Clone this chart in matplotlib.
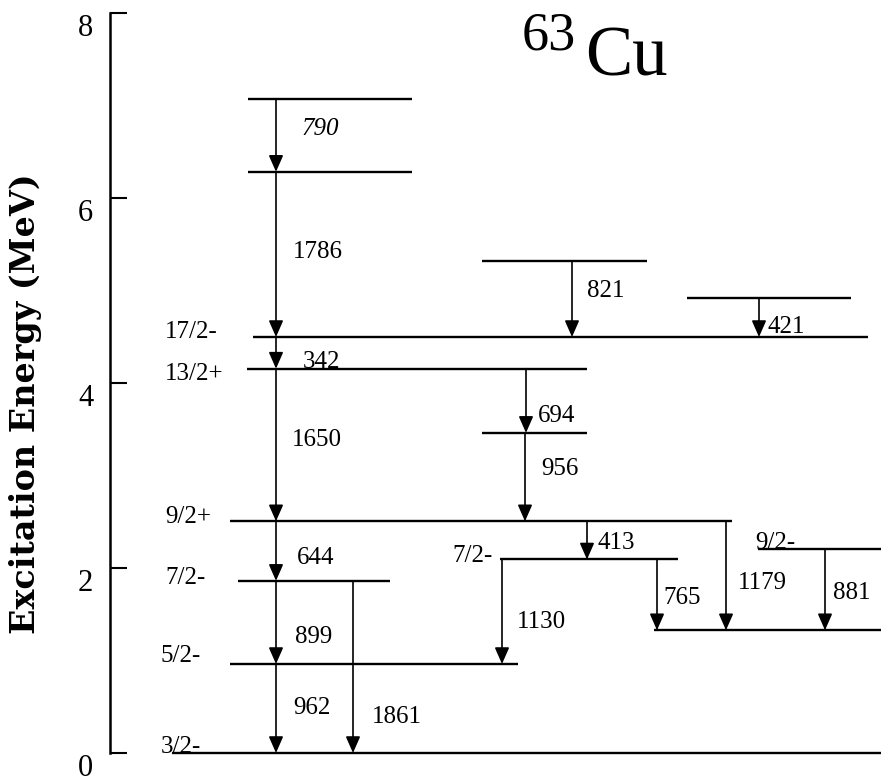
import matplotlib.pyplot as plt
from matplotlib.transforms import ScaledTranslation

# level scheme of 63Cu, energies in keV
level_energy = [0, 962, 1861, 2505, 4155, 4497, 6283, 7073, 5318, 4918, 3461, 2092, 1327, 2208]
level_spin = ["3/2-", "5/2-", "7/2-", "9/2+", "13/2+", "17/2-", "", "", "", "", "", "7/2-", "", "9/2-"]

# gamma transitions: energy (keV), initial level, final level
gamma_energy = [790, 1786, 342, 1650, 644, 899, 962, 1861, 821, 421, 694, 956, 413, 1130, 765, 1179, 881]
gamma_from = [7, 6, 5, 4, 3, 2, 1, 2, 8, 9, 4, 10, 3, 11, 11, 3, 13]
gamma_to = [6, 5, 4, 3, 2, 1, 0, 0, 5, 5, 10, 3, 11, 1, 12, 12, 12]

yticks = [0, 2000, 4000, 6000, 8000]
ytick_labels = ["0", "2", "4", "6", "8"]

# drawing layout (x in pixel-like units, offsets in pixels)
level_x = [(172, 881), (230, 518), (238, 390), (230, 732), (247, 587), (253, 868),
           (248, 412), (248, 412), (482, 647), (687, 851), (482, 587), (500, 678),
           (654, 881), (758, 881)]
gamma_x = [276, 276, 276, 276, 276, 276, 276, 353, 572, 759, 526, 525, 587, 502, 657, 726, 825]
gamma_lab = [(26, 43), (17, 85), (27, 7), (16, 81), (21, 23), (19, 27), (17, 45), (19, 36),
             (15, 46), (9, 10), (12, 17), (16, 52), (10, 16), (15, 42), (6, 32), (12, 47), (8, 37)]
spin_pos = {0: (161, "left", 6), 1: (160, "left", 8), 2: (165, "left", 3), 3: (165, "left", 4),
            4: (165, "left", -5), 5: (165, "left", 5), 11: (493, "right", 3), 13: (755, "left", 6)}

serif = "Liberation Serif"
W, H = 881, 782
fig = plt.figure(figsize=(W / 100, H / 100), dpi=100)
ax = fig.add_axes([110 / W, 29 / H, (W - 110) / W, 740 / H])
ax.set_xlim(110, W)
ax.set_ylim(0, 8000)

for (x0, x1), e in zip(level_x, level_energy):
    ax.plot([x0, x1], [e, e], color="k", lw=1.7, solid_capstyle="butt", clip_on=False)

for i, g in enumerate(gamma_energy):
    x = gamma_x[i]
    e0 = level_energy[gamma_from[i]]
    e1 = level_energy[gamma_to[i]]
    ax.annotate("", xy=(x, e1), xytext=(x, e0),
                arrowprops=dict(arrowstyle="-|>,head_length=0.5,head_width=0.22",
                                mutation_scale=20, lw=1.2, color="k",
                                shrinkA=0, shrinkB=0))
    dx, dy = gamma_lab[i]
    ax.annotate(str(g), xy=(x, e1), xytext=(dx, dy), textcoords="offset pixels",
                ha="left", va="center", fontsize=18, family=serif,
                style="italic" if g == 790 else "normal")

for i, (x, ha, dy) in spin_pos.items():
    ax.annotate(level_spin[i], xy=(x, level_energy[i]), xytext=(0, dy),
                textcoords="offset pixels", ha=ha, va="center",
                fontsize=18, family=serif)

for s in ["top", "right", "bottom"]:
    ax.spines[s].set_visible(False)
ax.spines["left"].set_linewidth(1.8)
ax.set_xticks([])
ax.set_yticks(yticks)
ax.set_yticklabels(ytick_labels, fontsize=22, family=serif)
ax.tick_params(axis="y", direction="in", length=12, width=1.5, pad=12)
shift = ScaledTranslation(0, -12 / 100, fig.dpi_scale_trans)
for lab in ax.get_yticklabels():
    lab.set_transform(lab.get_transform() + shift)

fig.text(26 / W, 1 - 404 / H, "Excitation Energy (MeV)", rotation=90,
         ha="center", va="center", fontsize=24, family="DejaVu Serif", weight="bold")

fig.text(522 / W, 1 - 50 / H, "63", ha="left", va="baseline", fontsize=39, family=serif)
fig.text(585 / W, 1 - 75 / H, "Cu", ha="left", va="baseline", fontsize=51, family=serif)

fig.savefig("out.png", dpi=100)
